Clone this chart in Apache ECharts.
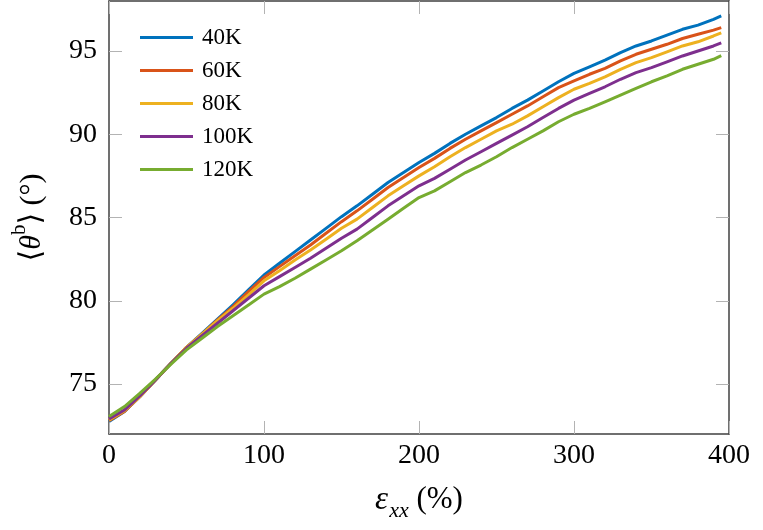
<!DOCTYPE html>
<html>
<head>
<meta charset="utf-8">
<script src="https://cdn.jsdelivr.net/npm/echarts@6/dist/echarts.min.js"></script>
<style>html,body{margin:0;padding:0;background:#fff;}#c{width:763px;height:530px;}</style>
</head>
<body>
<div id="c"></div>
<script>
// strain eps_xx (%)
const strain = [0,10,20,30,40,50,60,70,80,90,100,110,120,130,140,150,160,170,180,190,200,210,220,230,240,250,260,270,280,290,300,310,320,330,340,350,360,370,380,390,395];
const seriesNames = ['40K','60K','80K','100K','120K'];
const theta40K  = [72.75,73.35,74.25,75.25,76.25,77.2,78.05,78.9,79.75,80.65,81.55,82.25,82.95,83.65,84.35,85.05,85.7,86.4,87.1,87.7,88.3,88.85,89.45,90.0,90.5,91.0,91.55,92.05,92.6,93.15,93.65,94.05,94.45,94.9,95.3,95.6,95.95,96.3,96.55,96.9,97.1];
const theta60K  = [72.8,73.35,74.25,75.25,76.25,77.2,78.0,78.85,79.65,80.55,81.4,82.05,82.7,83.35,84.05,84.75,85.4,86.1,86.8,87.4,88.0,88.55,89.15,89.7,90.2,90.7,91.2,91.7,92.25,92.8,93.2,93.6,93.95,94.4,94.8,95.1,95.4,95.75,96.0,96.25,96.4];
const theta80K  = [72.85,73.4,74.25,75.25,76.25,77.2,78.0,78.8,79.55,80.35,81.2,81.8,82.45,83.05,83.7,84.35,84.9,85.6,86.3,86.9,87.5,88.05,88.65,89.2,89.7,90.2,90.6,91.1,91.65,92.2,92.7,93.05,93.45,93.9,94.3,94.6,94.95,95.3,95.55,95.9,96.08];
const theta100K = [72.9,73.45,74.3,75.25,76.25,77.15,77.9,78.65,79.4,80.15,80.9,81.45,82.0,82.55,83.15,83.75,84.3,85.0,85.7,86.3,86.9,87.35,87.9,88.45,88.95,89.45,89.95,90.45,91.0,91.55,92.05,92.45,92.85,93.3,93.7,94.0,94.35,94.7,95.0,95.3,95.48];
const theta120K = [73.05,73.65,74.45,75.3,76.2,77.05,77.75,78.45,79.1,79.75,80.4,80.85,81.35,81.9,82.45,83.0,83.6,84.25,84.9,85.55,86.2,86.6,87.15,87.7,88.15,88.65,89.2,89.7,90.2,90.75,91.2,91.55,91.95,92.35,92.75,93.15,93.5,93.9,94.2,94.5,94.72];
const xTicks = [0,100,200,300,400];
const yTicks = [75,80,85,90,95];

const colors = ['#0072BD','#D95319','#EDB120','#7E2F8E','#77AC30'];
const allY = [theta40K, theta60K, theta80K, theta100K, theta120K];
const FONT = '"Liberation Serif", "DejaVu Serif", serif';

const chart = echarts.init(document.getElementById('c'), null, {renderer: 'canvas'});
const tickStyle = {show: true, inside: true, length: 13, lineStyle: {color: '#b3b3b3', width: 1}};
const lineStyle = {show: true, onZero: false, lineStyle: {color: '#404040', width: 1.5}};

chart.setOption({
  animation: false,
  backgroundColor: '#fff',
  color: colors,
  grid: {left: 109, right: 34, top: 1, bottom: 96, containLabel: false},
  legend: {
    orient: 'vertical', left: 140, top: 26, padding: 0, itemWidth: 53, itemHeight: 3, itemGap: 10,
    icon: 'rect',
    textStyle: {fontFamily: FONT, fontSize: 23, lineHeight: 22, color: '#000', padding: [0,0,0,4]},
    data: seriesNames
  },
  xAxis: [{
    type: 'value', min: 0, max: 400, interval: 100, position: 'bottom',
    axisLine: lineStyle, axisTick: tickStyle, splitLine: {show: false},
    axisLabel: {fontFamily: FONT, fontSize: 28, color: '#000', margin: 8, customValues: xTicks},
    name: '{e|ε}{s|xx}{n| (%)}', nameLocation: 'middle', nameGap: 50,
    nameTextStyle: {
      fontFamily: FONT, fontSize: 30, color: '#000',
      rich: {
        e: {fontFamily: FONT, fontSize: 33, fontStyle: 'italic', color: '#000', verticalAlign: 'top', lineHeight: 38},
        s: {fontFamily: FONT, fontSize: 22, fontStyle: 'italic', color: '#000', verticalAlign: 'bottom', lineHeight: 38, padding: [0,0,0,1]},
        n: {fontFamily: FONT, fontSize: 31, color: '#000', verticalAlign: 'top', lineHeight: 38}
      }
    }
  }, {
    type: 'value', min: 0, max: 400, interval: 100, position: 'top',
    axisLine: lineStyle, axisTick: tickStyle, axisLabel: {show: false}, splitLine: {show: false}
  }],
  yAxis: [{
    type: 'value', min: 72, max: 98, position: 'left',
    axisLine: lineStyle, axisTick: Object.assign({customValues: yTicks}, tickStyle), splitLine: {show: false},
    axisLabel: {fontFamily: FONT, fontSize: 28, color: '#000', margin: 12, customValues: yTicks},
    name: '{n|⟨}{t|θ}{s|b}{n|⟩ (°)}', nameLocation: 'middle', nameGap: 62, nameRotate: 90,
    nameTextStyle: {
      fontFamily: FONT, fontSize: 30, color: '#000',
      rich: {
        n: {fontFamily: FONT, fontSize: 30, color: '#000', verticalAlign: 'bottom', lineHeight: 38},
        t: {fontFamily: FONT, fontSize: 30, fontStyle: 'italic', color: '#000', verticalAlign: 'bottom', lineHeight: 38},
        s: {fontFamily: FONT, fontSize: 21, color: '#000', verticalAlign: 'top', lineHeight: 38}
      }
    }
  }, {
    type: 'value', min: 72, max: 98, position: 'right',
    axisLine: lineStyle, axisTick: Object.assign({customValues: yTicks}, tickStyle),
    axisLabel: {show: false}, splitLine: {show: false}
  }],
  series: seriesNames.map((n, i) => ({
    name: n, type: 'line', showSymbol: false, symbol: 'none', smooth: false,
    lineStyle: {width: 3, color: colors[i]}, itemStyle: {color: colors[i]},
    data: strain.map((x, j) => [x, allY[i][j]])
  }))
});
</script>
</body>
</html>
